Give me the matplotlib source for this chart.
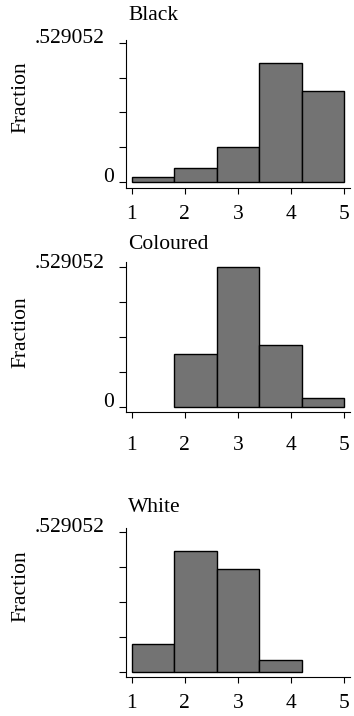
import numpy as np
import matplotlib
matplotlib.use("Agg")
from matplotlib import pyplot as plt

plt.rcParams['font.family'] = ['Liberation Serif', 'DejaVu Serif']

# histogram data (fraction per bin)
bin_edges = [1.0, 1.8, 2.6, 3.4, 4.2, 5.0]
groups = ["Black", "Coloured", "White"]
frac_black = [0.018, 0.052, 0.132, 0.453, 0.345]
frac_coloured = [0.0, 0.201, 0.529052, 0.235, 0.034]
frac_white = [0.104, 0.458, 0.388, 0.045, 0.0]
x_ticks = [1, 2, 3, 4, 5]
y_top = 0.529052
y_top_label = ".529052"

W, H = 354, 716
fig = plt.figure(figsize=(W / 100, H / 100), dpi=100)

# pixel layout for each panel: (axes top, zero line, axes bottom, xlabel pad, show "0",
#                               title y, "Fraction" y)
panels = [
    (40.0, 182.0, 187.7, 8.4, True, 16, 97),
    (261.7, 406.7, 412.3, 13.0, True, 245, 332),
    (528.3, 671.7, 677.3, 7.9, False, 507, 586),
]
ax_left, ax_right = 126, 350
x_one, x_five = 131.7, 344.3
top_tick = [42.7, 267.3, 532.0]

for i, (name, fr) in enumerate(zip(groups, [frac_black, frac_coloured, frac_white])):
    a_top, zero, a_bot, xpad, show0, ty, fy = panels[i]
    ax = fig.add_axes([ax_left / W, 1 - a_bot / H, (ax_right - ax_left) / W, (a_bot - a_top) / H])

    lefts = np.array(bin_edges[:-1])
    widths = np.diff(bin_edges)
    fr = np.array(fr)
    keep = fr > 0
    ax.bar(lefts[keep], fr[keep], width=widths[keep], align='edge',
           color='#737373', edgecolor='black', linewidth=1.0)

    ppu = (x_five - x_one) / 4
    ax.set_xlim(1 - (x_one - ax_left) / ppu, 5 + (ax_right - x_five) / ppu)
    hpx = zero - top_tick[i]
    ax.set_ylim(-(a_bot - zero) / hpx * y_top, y_top + (top_tick[i] - a_top) / hpx * y_top)

    for s in ['top', 'right']:
        ax.spines[s].set_visible(False)
    for s in ['left', 'bottom']:
        ax.spines[s].set_linewidth(0.8)

    ax.set_xticks(x_ticks)
    ax.set_xticklabels([str(t) for t in x_ticks])
    ax.tick_params(axis='x', length=4, width=0.8, pad=xpad, labelsize=15.5)
    ax.set_yticks([y_top * k / 4 for k in range(5)])
    ax.set_yticklabels([])
    ax.tick_params(axis='y', length=5, width=0.8)

    # y labels, Stata style
    if show0:
        fig.text(114.5 / W, 1 - (zero - 4) / H, "0", ha='right', va='center', fontsize=15.5)
    fig.text(105 / W, 1 - (top_tick[i] - 4) / H, y_top_label, ha='right', va='center', fontsize=15.5)

    fig.text(128 / W, 1 - ty / H, name, ha='left', va='center', fontsize=15.5)
    fig.text(21 / W, 1 - fy / H, "Fraction", rotation=90, ha='center', va='center', fontsize=15.5)

fig.savefig("out.png", dpi=100)
